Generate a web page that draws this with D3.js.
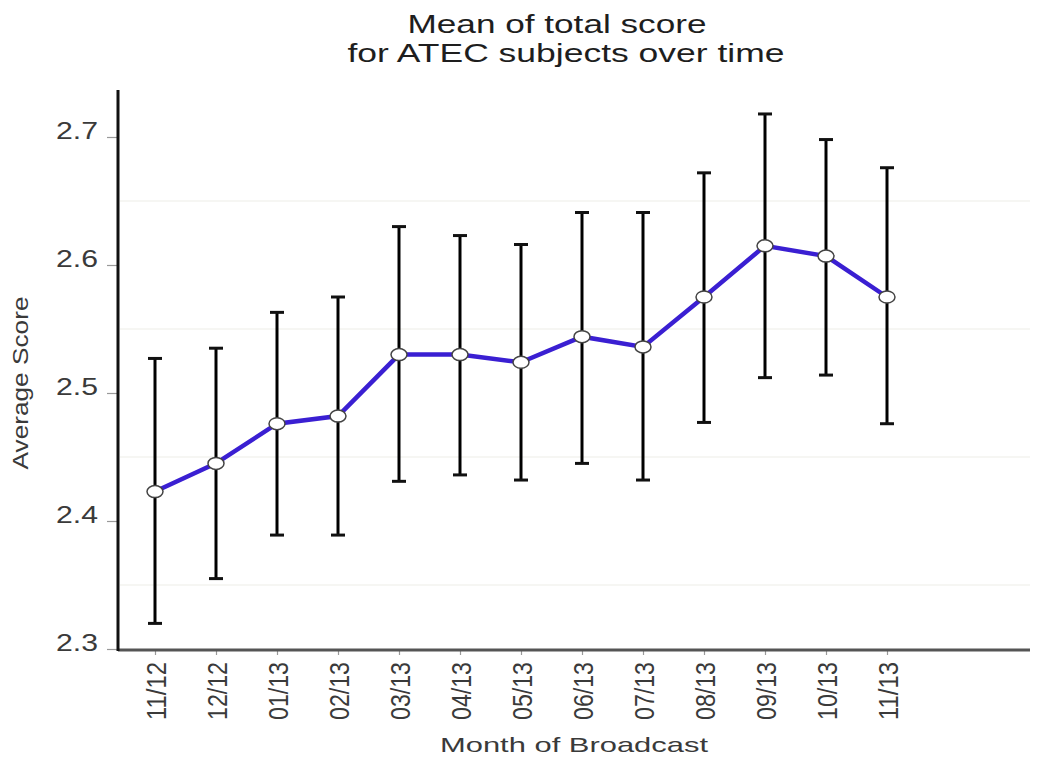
<!DOCTYPE html>
<html>
<head>
<meta charset="utf-8">
<script src="https://cdn.jsdelivr.net/npm/d3@7"></script>
<style>
  body { margin: 0; background: #fff; }
  text { font-family: "Liberation Sans", Arial, sans-serif; }
</style>
</head>
<body>
<div id="chart"></div>
<script>
var months = ["11/12","12/12","01/13","02/13","03/13","04/13","05/13","06/13","07/13","08/13","09/13","10/13","11/13"]
var meanScore = [2.423, 2.445, 2.476, 2.482, 2.530, 2.530, 2.524, 2.544, 2.536, 2.575, 2.615, 2.607, 2.575]
var upperBar = [2.527, 2.535, 2.563, 2.575, 2.630, 2.623, 2.616, 2.641, 2.641, 2.672, 2.718, 2.698, 2.676]
var lowerBar = [2.320, 2.355, 2.389, 2.389, 2.431, 2.436, 2.432, 2.445, 2.432, 2.477, 2.512, 2.514, 2.476]
var yTicks = [2.3, 2.4, 2.5, 2.6, 2.7]
var gridVals = [2.35, 2.45, 2.55, 2.65]

var width = 1058, height = 762

var svg = d3.select("#chart").append("svg")
  .attr("width", width)
  .attr("height", height)

var x = d3.scalePoint().domain(months).range([155, 887])
var y = d3.scaleLinear().domain([2.3, 2.7]).range([649, 137])

var axisLeftX = 118
var axisRight = 1030

// faint grid lines
svg.selectAll(".grid").data(gridVals).enter().append("line")
  .attr("class", "grid")
  .attr("x1", axisLeftX + 2)
  .attr("x2", axisRight)
  .attr("y1", d => y(d))
  .attr("y2", d => y(d))
  .attr("stroke", "#f6f6f3")
  .attr("stroke-width", 2)

// y axis ticks + labels
var yAxis = svg.append("g")
  .attr("transform", `translate(${axisLeftX},0)`)
  .call(d3.axisLeft(y).tickValues(yTicks).tickSize(11).tickSizeOuter(0).tickFormat(d3.format(".1f")))

yAxis.select(".domain").remove()
yAxis.selectAll(".tick line").attr("stroke", "#999").attr("stroke-width", 1.2)
yAxis.selectAll(".tick text")
  .attr("x", -20)
  .attr("dy", "0.05em")
  .attr("fill", "#3a3a3a")
  .style("font-size", "24px")
  .attr("textLength", 42)
  .attr("lengthAdjust", "spacingAndGlyphs")

// x axis ticks + labels
var xAxis = svg.append("g")
  .attr("transform", `translate(0,${y(2.3) + 1})`)
  .call(d3.axisBottom(x).tickSize(5).tickSizeOuter(0))

xAxis.select(".domain").remove()
xAxis.selectAll(".tick line").attr("stroke", "#999").attr("stroke-width", 1.2)
xAxis.selectAll(".tick text")
  .attr("y", 0)
  .attr("dy", 0)
  .attr("text-anchor", "end")
  .attr("fill", "#3a3a3a")
  .style("font-size", "21px")
  .attr("textLength", 58)
  .attr("lengthAdjust", "spacingAndGlyphs")
  .attr("transform", "translate(10,12) rotate(-90) scale(1,1.35)")

// axis lines
svg.append("line")
  .attr("x1", axisLeftX).attr("x2", axisRight)
  .attr("y1", y(2.3) + 1).attr("y2", y(2.3) + 1)
  .attr("stroke", "#555")
  .attr("stroke-width", 3)

svg.append("line")
  .attr("x1", axisLeftX).attr("x2", axisLeftX)
  .attr("y1", 90).attr("y2", y(2.3) + 2)
  .attr("stroke", "#111")
  .attr("stroke-width", 3)

// error bars
svg.selectAll(".errBar").data(months).enter().append("line")
  .attr("class", "errBar")
  .attr("x1", d => x(d)).attr("x2", d => x(d))
  .attr("y1", (d, i) => y(upperBar[i]))
  .attr("y2", (d, i) => y(lowerBar[i]))
  .attr("stroke", "#000")
  .attr("stroke-width", 3)

svg.selectAll(".capTop").data(months).enter().append("line")
  .attr("class", "capTop")
  .attr("x1", d => x(d) - 7).attr("x2", d => x(d) + 7)
  .attr("y1", (d, i) => y(upperBar[i]))
  .attr("y2", (d, i) => y(upperBar[i]))
  .attr("stroke", "#111")
  .attr("stroke-width", 3)

svg.selectAll(".capBot").data(months).enter().append("line")
  .attr("class", "capBot")
  .attr("x1", d => x(d) - 7).attr("x2", d => x(d) + 7)
  .attr("y1", (d, i) => y(lowerBar[i]))
  .attr("y2", (d, i) => y(lowerBar[i]))
  .attr("stroke", "#111")
  .attr("stroke-width", 3)

// mean line
var line = d3.line()
  .x((d, i) => x(months[i]))
  .y(d => y(d))

svg.append("path")
  .datum(meanScore)
  .attr("d", line)
  .attr("fill", "none")
  .attr("stroke", "#3a1fd2")
  .attr("stroke-width", 4.5)

svg.selectAll(".pt").data(meanScore).enter().append("ellipse")
  .attr("class", "pt")
  .attr("cx", (d, i) => x(months[i]))
  .attr("cy", d => y(d))
  .attr("rx", 8)
  .attr("ry", 6)
  .attr("fill", "#fff")
  .attr("stroke", "#444")
  .attr("stroke-width", 1.5)

// titles
svg.append("text")
  .attr("x", 557).attr("y", 33)
  .attr("text-anchor", "middle")
  .attr("fill", "#1e1e1e")
  .style("font-size", "25px")
  .attr("textLength", 299)
  .attr("lengthAdjust", "spacingAndGlyphs")
  .text("Mean of total score")

svg.append("text")
  .attr("x", 566).attr("y", 62)
  .attr("text-anchor", "middle")
  .attr("fill", "#1e1e1e")
  .style("font-size", "25px")
  .attr("textLength", 437)
  .attr("lengthAdjust", "spacingAndGlyphs")
  .text("for ATEC subjects over time")

svg.append("text")
  .attr("x", 574).attr("y", 752)
  .attr("text-anchor", "middle")
  .attr("fill", "#3a3a3a")
  .style("font-size", "21px")
  .attr("textLength", 268)
  .attr("lengthAdjust", "spacingAndGlyphs")
  .text("Month of Broadcast")

svg.append("text")
  .attr("text-anchor", "middle")
  .attr("fill", "#3a3a3a")
  .style("font-size", "17px")
  .attr("textLength", 173)
  .attr("lengthAdjust", "spacingAndGlyphs")
  .attr("transform", "translate(28,383) rotate(-90) scale(1,1.3)")
  .text("Average Score")
</script>
</body>
</html>
